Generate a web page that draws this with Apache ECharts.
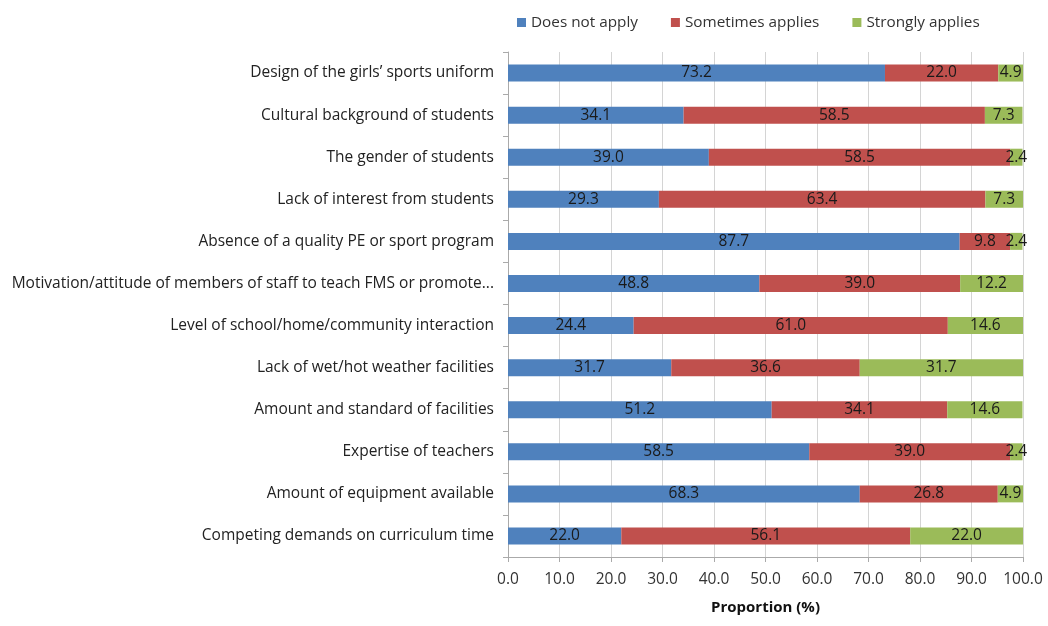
<!DOCTYPE html>
<html><head><meta charset="utf-8">
<script src="https://cdn.jsdelivr.net/npm/echarts@6/dist/echarts.min.js"></script>
<style>html,body{margin:0;padding:0;background:#fff}#c{width:1048px;height:626px}</style>
</head><body><div id="c"></div>
<script>
const categories = [
  "Design of the girls\u2019 sports uniform",
  "Cultural background of students",
  "The gender of students",
  "Lack of interest from students",
  "Absence of a quality PE or sport program",
  "Motivation/attitude of members of staff to teach FMS or promote...",
  "Level of school/home/community interaction",
  "Lack of wet/hot weather facilities",
  "Amount and standard of facilities",
  "Expertise of teachers",
  "Amount of equipment available",
  "Competing demands on curriculum time"
];
const doesNotApply    = [73.2, 34.1, 39.0, 29.3, 87.7, 48.8, 24.4, 31.7, 51.2, 58.5, 68.3, 22.0];
const sometimesApplies= [22.0, 58.5, 58.5, 63.4, 9.8, 39.0, 61.0, 36.6, 34.1, 39.0, 26.8, 56.1];
const stronglyApplies = [4.9, 7.3, 2.4, 7.3, 2.4, 12.2, 14.6, 31.7, 14.6, 2.4, 4.9, 22.0];
const seriesNames = ["Does not apply", "Sometimes applies", "Strongly applies"];
const colors = ["#4F81BD", "#C0504D", "#9BBB59"];

const font = "'Open Sans', sans-serif";
const mk = (name, data, color) => ({
  name, type: 'bar', stack: 'total', data, barWidth: 17,
  itemStyle: { color },
  label: { show: true, position: 'inside', color: '#1a1a1a', fontFamily: font, fontSize: 15.5,
    formatter: p => p.value.toFixed(1) }
});
const chart = echarts.init(document.getElementById('c'));
chart.setOption({
  animation: false,
  textStyle: { fontFamily: font },
  legend: {
    top: 10, left: 512, itemWidth: 9, itemHeight: 9, itemGap: 33, icon: 'rect',
    textStyle: { fontFamily: font, fontSize: 15.3, color: '#333' },
    data: seriesNames
  },
  grid: { left: 508, right: 25, top: 52, bottom: 69, containLabel: false },
  xAxis: {
    type: 'value', min: 0, max: 100, interval: 10,
    name: 'Proportion (%)', nameLocation: 'middle', nameGap: 43,
    nameTextStyle: { fontFamily: font, fontSize: 15, fontWeight: 'bold', color: '#111' },
    axisLabel: { fontFamily: font, fontSize: 15.5, color: '#333', formatter: v => v.toFixed(1), margin: 15 },
    axisLine: { show: true, lineStyle: { color: '#aaa' } },
    axisTick: { show: true, length: 5, lineStyle: { color: '#aaa' } },
    splitLine: { show: true, lineStyle: { color: '#d4d4d4' } }
  },
  yAxis: {
    type: 'category', data: categories, inverse: true,
    axisLabel: { fontFamily: font, fontSize: 15.5, color: '#222', margin: 14 },
    axisLine: { show: true, lineStyle: { color: '#aaa' } },
    axisTick: { show: true, length: 5, lineStyle: { color: '#aaa' } }
  },
  series: [
    mk(seriesNames[0], doesNotApply, colors[0]),
    mk(seriesNames[1], sometimesApplies, colors[1]),
    mk(seriesNames[2], stronglyApplies, colors[2])
  ]
});
</script></body></html>
